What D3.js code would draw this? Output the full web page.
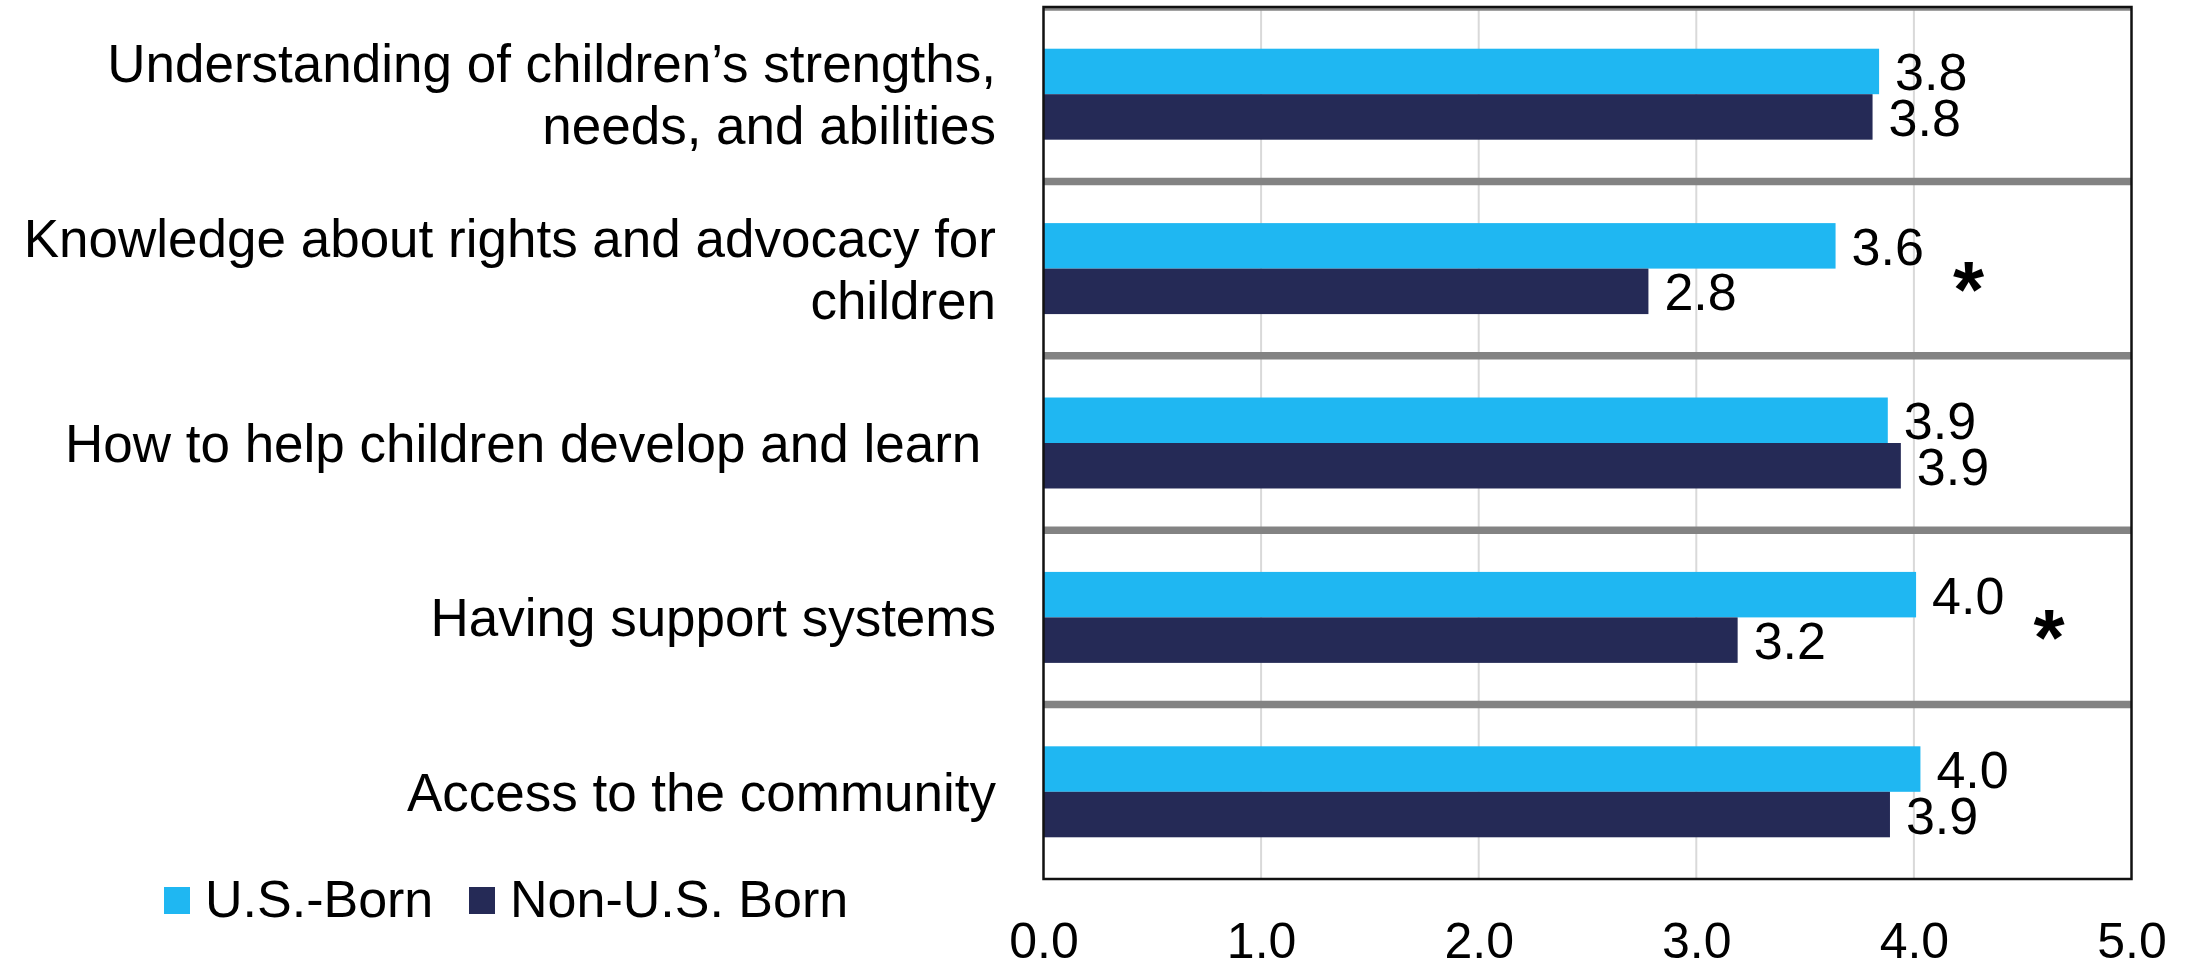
<!DOCTYPE html>
<html>
<head>
<meta charset="utf-8">
<script src="https://cdn.jsdelivr.net/npm/d3@7"></script>
<style>
  html, body { margin: 0; padding: 0; background: #fff; }
  svg { display: block; }
  text { font-family: "Liberation Sans", Arial, Helvetica, sans-serif; fill: #000; }
</style>
</head>
<body>
<svg id="chart" width="2193" height="966"></svg>
<script>
// ---- data ----
const categories = [
  "Understanding of children\u2019s strengths,\nneeds, and abilities",
  "Knowledge about rights and advocacy for\nchildren",
  "How to help children develop and learn ",
  "Having support systems",
  "Access to the community"
];
const seriesNames = ["U.S.-Born", "Non-U.S. Born"];
const usBorn = [3.84, 3.64, 3.88, 4.01, 4.03];
const nonUsBorn = [3.81, 2.78, 3.94, 3.19, 3.89];
const significance = ["", "*", "", "*", ""];
const xTicks = [0, 1, 2, 3, 4, 5];
const colors = ["#1FB7F2", "#252A56"];

// ---- layout ----
const svg = d3.select("#chart");
const plot = { left: 1043.5, right: 2131.5, top: 7, bottom: 879 };

const x = d3.scaleLinear().domain([0, 5]).range([plot.left, plot.right]);
const y = d3.scaleBand().domain(categories).range([plot.top, plot.bottom]).padding(0);
const ySub = d3.scaleBand().domain(seriesNames).range([0, y.bandwidth()])
  .paddingInner(0).paddingOuter(0.917);

const rows = categories.map((c, i) => ({
  cat: c, sig: significance[i],
  vals: [
    { s: seriesNames[0], v: usBorn[i] },
    { s: seriesNames[1], v: nonUsBorn[i] }
  ]
}));

// gridlines
svg.append("g").selectAll("line").data(xTicks.filter(t => t > 0 && t < 5)).join("line")
  .attr("x1", d => x(d)).attr("x2", d => x(d))
  .attr("y1", plot.top).attr("y2", plot.bottom)
  .attr("stroke", "#d9d9d9").attr("stroke-width", 2);

// separators (clipped to plot)
svg.append("clipPath").attr("id", "clipPlot").append("rect")
  .attr("x", plot.left).attr("y", plot.top)
  .attr("width", plot.right - plot.left).attr("height", plot.bottom - plot.top);
svg.append("g").attr("clip-path", "url(#clipPlot)")
  .selectAll("line").data(categories).join("line")
  .attr("x1", plot.left).attr("x2", plot.right)
  .attr("y1", d => y(d)).attr("y2", d => y(d))
  .attr("stroke", "#838383").attr("stroke-width", 7.5);

// bars
const groups = svg.append("g").selectAll("g").data(rows).join("g")
  .attr("transform", d => `translate(0,${y(d.cat)})`);
groups.selectAll("rect").data(d => d.vals).join("rect")
  .attr("x", x(0))
  .attr("y", d => ySub(d.s))
  .attr("width", d => x(d.v) - x(0))
  .attr("height", ySub.bandwidth())
  .attr("fill", (d, i) => colors[i]);

// value labels
const fmt = d3.format(".1f");
groups.selectAll("text.val").data(d => d.vals).join("text")
  .attr("class", "val")
  .attr("x", d => x(d.v) + 16)
  .attr("y", d => ySub(d.s) + ySub.bandwidth() / 2 + 19)
  .attr("font-size", 52)
  .text(d => fmt(d.v));

// significance markers
groups.filter(d => d.sig).append("text")
  .attr("x", d => x(d.vals[0].v) + 133)
  .attr("y", y.bandwidth() / 2 + 48)
  .attr("text-anchor", "middle")
  .attr("font-size", 80)
  .attr("font-weight", "bold")
  .text(d => d.sig);

// category labels
const catG = svg.append("g").selectAll("text").data(categories).join("text")
  .attr("text-anchor", "end")
  .attr("font-size", 53)
  .style("white-space", "pre");
catG.each(function(d) {
  const lines = d.split("\n");
  const c = y(d) + y.bandwidth() / 2;
  const lh = 62;
  const first = c + 19 - (lines.length - 1) * lh / 2;
  d3.select(this).selectAll("tspan").data(lines).join("tspan")
    .attr("x", 996)
    .attr("y", (l, i) => first + i * lh)
    .style("white-space", "pre")
    .text(l => l);
});

// plot border
svg.append("rect")
  .attr("x", plot.left).attr("y", plot.top)
  .attr("width", plot.right - plot.left).attr("height", plot.bottom - plot.top)
  .attr("fill", "none").attr("stroke", "#111").attr("stroke-width", 2.5);

// x axis
const xAxis = d3.axisBottom(x).tickValues(xTicks).tickFormat(d3.format(".1f")).tickSize(0);
const ax = svg.append("g").attr("transform", `translate(0,${plot.bottom})`).call(xAxis);
ax.select(".domain").remove();
ax.selectAll("text")
  .attr("y", 79).attr("dy", 0)
  .attr("font-size", 50)
  .attr("fill", "#000")
  .style("font-family", "\"Liberation Sans\", Arial, sans-serif");

// legend
const legend = svg.append("g");
const legendItems = [
  { name: seriesNames[0], color: colors[0], sx: 164, tx: 205 },
  { name: seriesNames[1], color: colors[1], sx: 469, tx: 510 }
];
legend.selectAll("rect").data(legendItems).join("rect")
  .attr("x", d => d.sx).attr("y", 887).attr("width", 26).attr("height", 27)
  .attr("fill", d => d.color);
legend.selectAll("text").data(legendItems).join("text")
  .attr("x", d => d.tx).attr("y", 917)
  .attr("font-size", 52)
  .text(d => d.name);
</script>
</body>
</html>
